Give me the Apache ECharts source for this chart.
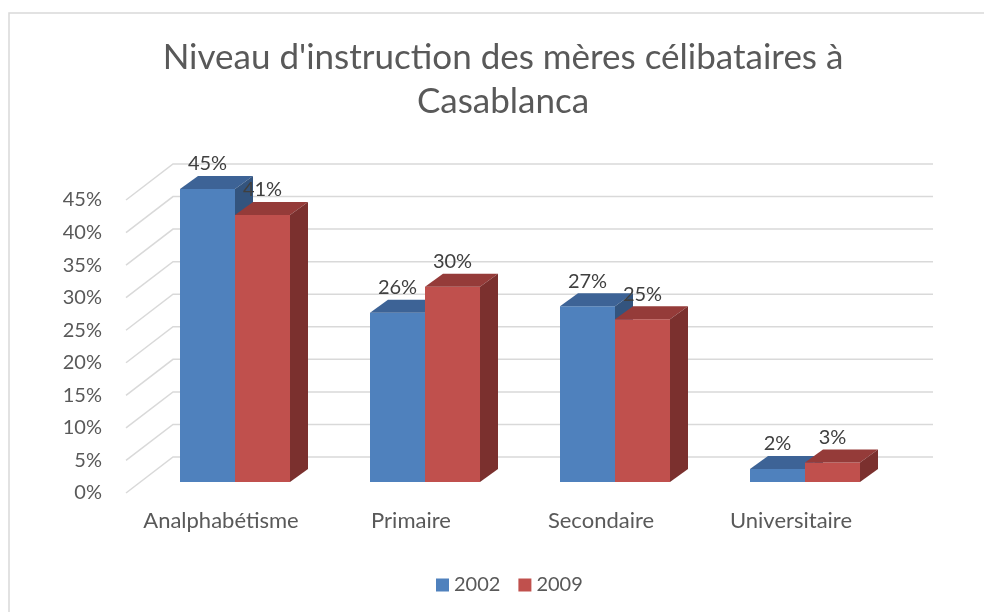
<!DOCTYPE html>
<html>
<head>
<meta charset="utf-8">
<script src="https://cdn.jsdelivr.net/npm/echarts@6/dist/echarts.min.js"></script>
<style>
html, body { margin: 0; background: #fff; }
#chart { width: 984px; height: 612px; }
</style>
</head>
<body>
<div id="chart"></div>
<script>
// data
var categories = ['Analphabétisme', 'Primaire', 'Secondaire', 'Universitaire'];
var years = ['2002', '2009'];
var values2002 = [45, 26, 27, 2];
var values2009 = [41, 30, 25, 3];
var yTicks = [0, 5, 10, 15, 20, 25, 30, 35, 40, 45];

var FONT = 'Lato';
// fake 3d: offsets in px from the front plane
var WALL = [47, -36];
var SHIFT = [14, -11];
var DEPTH = [18, -13];
var BAR_W = 55;

var palettes = [
  { front: '#4f81bd', top: '#3d6396', side: '#33547e' },
  { front: '#c0504d', top: '#953b39', side: '#7b302e' }
];

function renderWall(params, api) {
  var cs = params.coordSys;
  var y = api.coord([0, api.value(1)])[1];
  return {
    type: 'polyline',
    shape: { points: [[cs.x, y], [cs.x + WALL[0], y + WALL[1]], [cs.x + cs.width + WALL[0], y + WALL[1]]] },
    style: { stroke: '#d9d9d9', lineWidth: 1.5, fill: null }
  };
}

function barRenderer(idx) {
  var p = palettes[idx];
  return function (params, api) {
    var i = api.value(0), v = api.value(1);
    var base = api.coord([i, 0]);
    var top = api.coord([i, v]);
    var x0 = base[0] + SHIFT[0] - (idx === 0 ? BAR_W : 0);
    var yB = base[1] + SHIFT[1];
    var yT = top[1] + SHIFT[1];
    var dx = DEPTH[0], dy = DEPTH[1];
    return {
      type: 'group',
      children: [
        { type: 'rect', shape: { x: x0, y: yT, width: BAR_W, height: yB - yT }, style: { fill: p.front } },
        { type: 'polygon', shape: { points: [[x0, yT], [x0 + BAR_W, yT], [x0 + BAR_W + dx, yT + dy], [x0 + dx, yT + dy]] }, style: { fill: p.top } },
        { type: 'polygon', shape: { points: [[x0 + BAR_W, yT], [x0 + BAR_W + dx, yT + dy], [x0 + BAR_W + dx, yB + dy], [x0 + BAR_W, yB]] }, style: { fill: p.side } },
        { type: 'text', x: x0 + BAR_W / 2, y: yT - 25, z2: 10,
          style: { text: v + '%', fill: '#404040', font: '20px ' + FONT, align: 'center', verticalAlign: 'middle' } }
      ]
    };
  };
}

var chart = echarts.init(document.getElementById('chart'));
chart.setOption({
  backgroundColor: '#fff',
  animation: false,
  title: {
    text: "Niveau d'instruction des mères célibataires à\nCasablanca",
    left: 498,
    textAlign: 'center',
    top: 31,
    textStyle: { fontFamily: FONT, fontSize: 35, fontWeight: 'normal', color: '#595959', lineHeight: 44 }
  },
  legend: {
    top: 570,
    left: 431,
    itemWidth: 13,
    itemHeight: 13,
    itemGap: 18,
    icon: 'rect',
    data: years,
    textStyle: { fontFamily: FONT, fontSize: 20, color: '#595959' }
  },
  graphic: [{
    type: 'rect', silent: true,
    shape: { x: 9, y: 13, width: 1000, height: 700 },
    style: { fill: null, stroke: '#d9d9d9', lineWidth: 1.5 }
  }],
  grid: { left: 126, right: 98, top: 200, bottom: 119 },
  xAxis: {
    type: 'category',
    data: categories,
    axisLine: { show: false },
    axisTick: { show: false },
    axisLabel: { interval: 0, margin: 17, fontFamily: FONT, fontSize: 22, color: '#595959' }
  },
  yAxis: {
    type: 'value',
    min: 0, max: 45, interval: 5,
    splitLine: { show: false },
    axisLine: { show: false },
    axisTick: { show: false },
    axisLabel: { margin: 24, formatter: '{value}%', fontFamily: FONT, fontSize: 20, color: '#595959' }
  },
  series: [
    { type: 'custom', name: 'wall', silent: true, z: 1, renderItem: renderWall,
      data: yTicks.map(function (t) { return [0, t]; }) },
    { type: 'custom', name: years[0], z: 2, renderItem: barRenderer(0), itemStyle: { color: palettes[0].front },
      data: values2002.map(function (v, i) { return [i, v]; }) },
    { type: 'custom', name: years[1], z: 3, renderItem: barRenderer(1), itemStyle: { color: palettes[1].front },
      data: values2009.map(function (v, i) { return [i, v]; }) }
  ]
});
</script>
</body>
</html>
